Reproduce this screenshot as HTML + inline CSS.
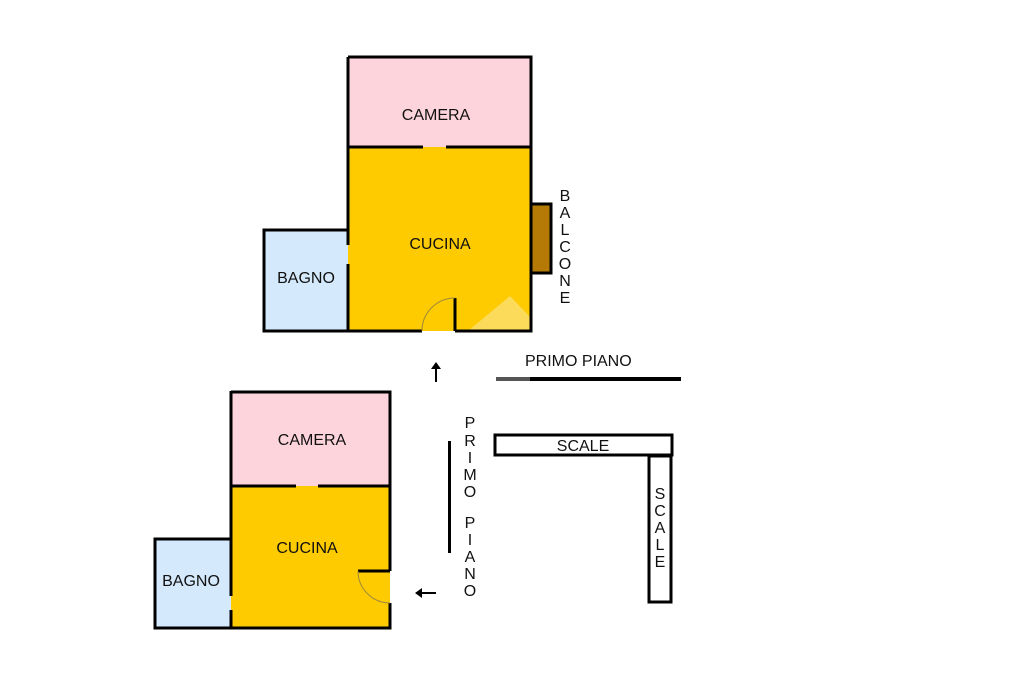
<!DOCTYPE html>
<html><head><meta charset="utf-8"><style>
html,body{margin:0;padding:0;background:#fff;}
svg{display:block;}
text{font-family:"Liberation Sans",Arial,sans-serif;font-size:16px;fill:#111;}
</style></head><body>
<svg width="1024" height="682" viewBox="0 0 1024 682" xmlns="http://www.w3.org/2000/svg">
<!-- TOP PLAN -->
<rect x="348" y="57" width="183" height="90" fill="#fdd3dc"/>
<rect x="348" y="147" width="183" height="184" fill="#fdcb00"/>
<rect x="264" y="230" width="84" height="101" fill="#d4e9fc"/>
<polygon points="468,331 510,296 531,318 531,331" fill="#fddb5a"/>
<rect x="531" y="204" width="20" height="69" fill="#b57a06" stroke="#000" stroke-width="3"/>
<g stroke="#000" stroke-width="3" fill="none">
<path d="M348,57 H531 V331 H455 M422,331 H264 V230 H348 V245 M348,264 V331"/>
<path d="M348,57 V230"/>
<path d="M348,147 H423 M446,147 H531"/>
<path d="M455,331 V298"/>
</g>
<path d="M422,331 A33,33 0 0 1 455,298" stroke="#a08a3a" stroke-width="1" fill="none"/>
<text x="436" y="120" text-anchor="middle">CAMERA</text>
<text x="440" y="249" text-anchor="middle">CUCINA</text>
<text x="306" y="283" text-anchor="middle">BAGNO</text>
<g text-anchor="middle">
<text x="565" y="201">B</text><text x="565" y="218">A</text><text x="565" y="235">L</text><text x="565" y="252">C</text><text x="565" y="269">O</text><text x="565" y="286">N</text><text x="565" y="303">E</text>
</g>
<line x1="436" y1="367" x2="436" y2="382" stroke="#000" stroke-width="2"/>
<polygon points="431,369 436,362 441,369" fill="#000"/>
<text x="525" y="366">PRIMO PIANO</text>
<rect x="496" y="377" width="185" height="4" fill="#000"/>
<rect x="496" y="377" width="34" height="4" fill="#555"/>
<!-- BOTTOM PLAN -->
<rect x="231" y="392" width="159" height="94" fill="#fdd3dc"/>
<rect x="231" y="486" width="159" height="142" fill="#fdcb00"/>
<rect x="155" y="539" width="76" height="89" fill="#d4e9fc"/>
<g stroke="#000" stroke-width="3" fill="none">
<path d="M231,392 H390 V571 M390,603 V628 H155 V539 H231 M231,391 V596 M231,610 V628"/>
<path d="M231,486 H296 M318,486 H390"/>
<path d="M358,571 H390"/>
</g>
<path d="M358,571 A32,32 0 0 0 390,603" stroke="#a08a3a" stroke-width="1" fill="none"/>
<text x="312" y="445" text-anchor="middle">CAMERA</text>
<text x="307" y="553" text-anchor="middle">CUCINA</text>
<text x="191" y="586" text-anchor="middle">BAGNO</text>
<line x1="420" y1="593" x2="436" y2="593" stroke="#000" stroke-width="2"/>
<polygon points="422,588 415,593 422,598" fill="#000"/>
<rect x="448" y="441" width="3" height="112" fill="#000"/>
<g text-anchor="middle">
<text x="470" y="428">P</text><text x="470" y="446">R</text><text x="470" y="463">I</text><text x="470" y="480">M</text><text x="470" y="497">O</text>
<text x="470" y="528">P</text><text x="470" y="545">I</text><text x="470" y="562">A</text><text x="470" y="579">N</text><text x="470" y="596">O</text>
</g>
<rect x="495" y="435" width="177" height="20" fill="#fff" stroke="#000" stroke-width="3"/>
<text x="583" y="451" text-anchor="middle">SCALE</text>
<rect x="649" y="456" width="22" height="146" fill="#fff" stroke="#000" stroke-width="3"/>
<g text-anchor="middle">
<text x="660" y="499">S</text><text x="660" y="516">C</text><text x="660" y="533">A</text><text x="660" y="550">L</text><text x="660" y="567">E</text>
</g>
</svg>
</body></html>
